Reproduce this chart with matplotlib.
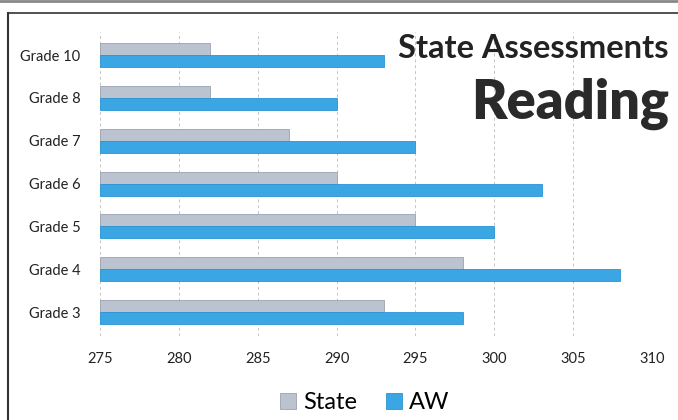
import matplotlib
matplotlib.use("Agg")
import matplotlib.pyplot as plt
from matplotlib.lines import Line2D
import numpy as np

grades = ["Grade 3", "Grade 4", "Grade 5", "Grade 6", "Grade 7", "Grade 8", "Grade 10"]
state = [293, 298, 295, 290, 287, 282, 282]
aw = [298, 308, 300, 303, 295, 290, 293]
xticks = [275, 280, 285, 290, 295, 300, 305, 310]

plt.rcParams['font.family'] = ['Lato', 'DejaVu Sans']

fig = plt.figure(figsize=(6.78, 4.2), dpi=100)
ax = fig.add_axes([0.1475, 0.201, 0.814, 0.724])

y = np.arange(len(grades))
h = 0.28
base = xticks[0]
ax.barh(y + h / 2, np.array(state) - base, h, left=base, color="#bcc3d0",
        edgecolor="#9aa2b0", linewidth=0.6, label="State")
ax.barh(y - h / 2, np.array(aw) - base, h, left=base, color="#3aa7e4",
        edgecolor="#2b93d3", linewidth=0.6, label="AW")

ax.set_xlim(275, 310)
ax.set_ylim(-0.55, 6.55)
ax.set_xticks(xticks)
ax.set_yticks(y)
ax.set_yticklabels(grades, fontsize=10.5, color="#222222")
ax.tick_params(axis="x", labelsize=10.5, colors="#222222", length=0, pad=12)
ax.tick_params(axis="y", length=0, pad=14)
ax.grid(axis="x", color="#c4c4c4", linestyle=(0, (3, 3)), linewidth=0.7)
ax.set_axisbelow(True)
for s in ax.spines.values():
    s.set_visible(False)

# title block in the upper right corner
fig.text(0.986, 0.862, "State Assessments", ha="right", va="baseline",
         fontsize=23.5, fontweight="bold", color="#222222")
fig.text(0.986, 0.718, "Reading", ha="right", va="baseline",
         fontsize=39, fontweight="heavy", color="#2a2a2a")

fig.legend(loc="lower center", bbox_to_anchor=(0.538, -0.035), ncol=2, frameon=False,
           fontsize=17, handlelength=0.7, handleheight=0.7, handletextpad=0.3,
           columnspacing=1.2)

# page frame
fig.add_artist(Line2D([0.012, 1.0], [0.97, 0.97], color="#333333", lw=1.2))
fig.add_artist(Line2D([0.012, 0.012], [0.0, 0.97], color="#333333", lw=1.5))
fig.add_artist(Line2D([0.0, 1.0], [0.998, 0.998], color="#888888", lw=2))

fig.savefig("out.png", dpi=100)
